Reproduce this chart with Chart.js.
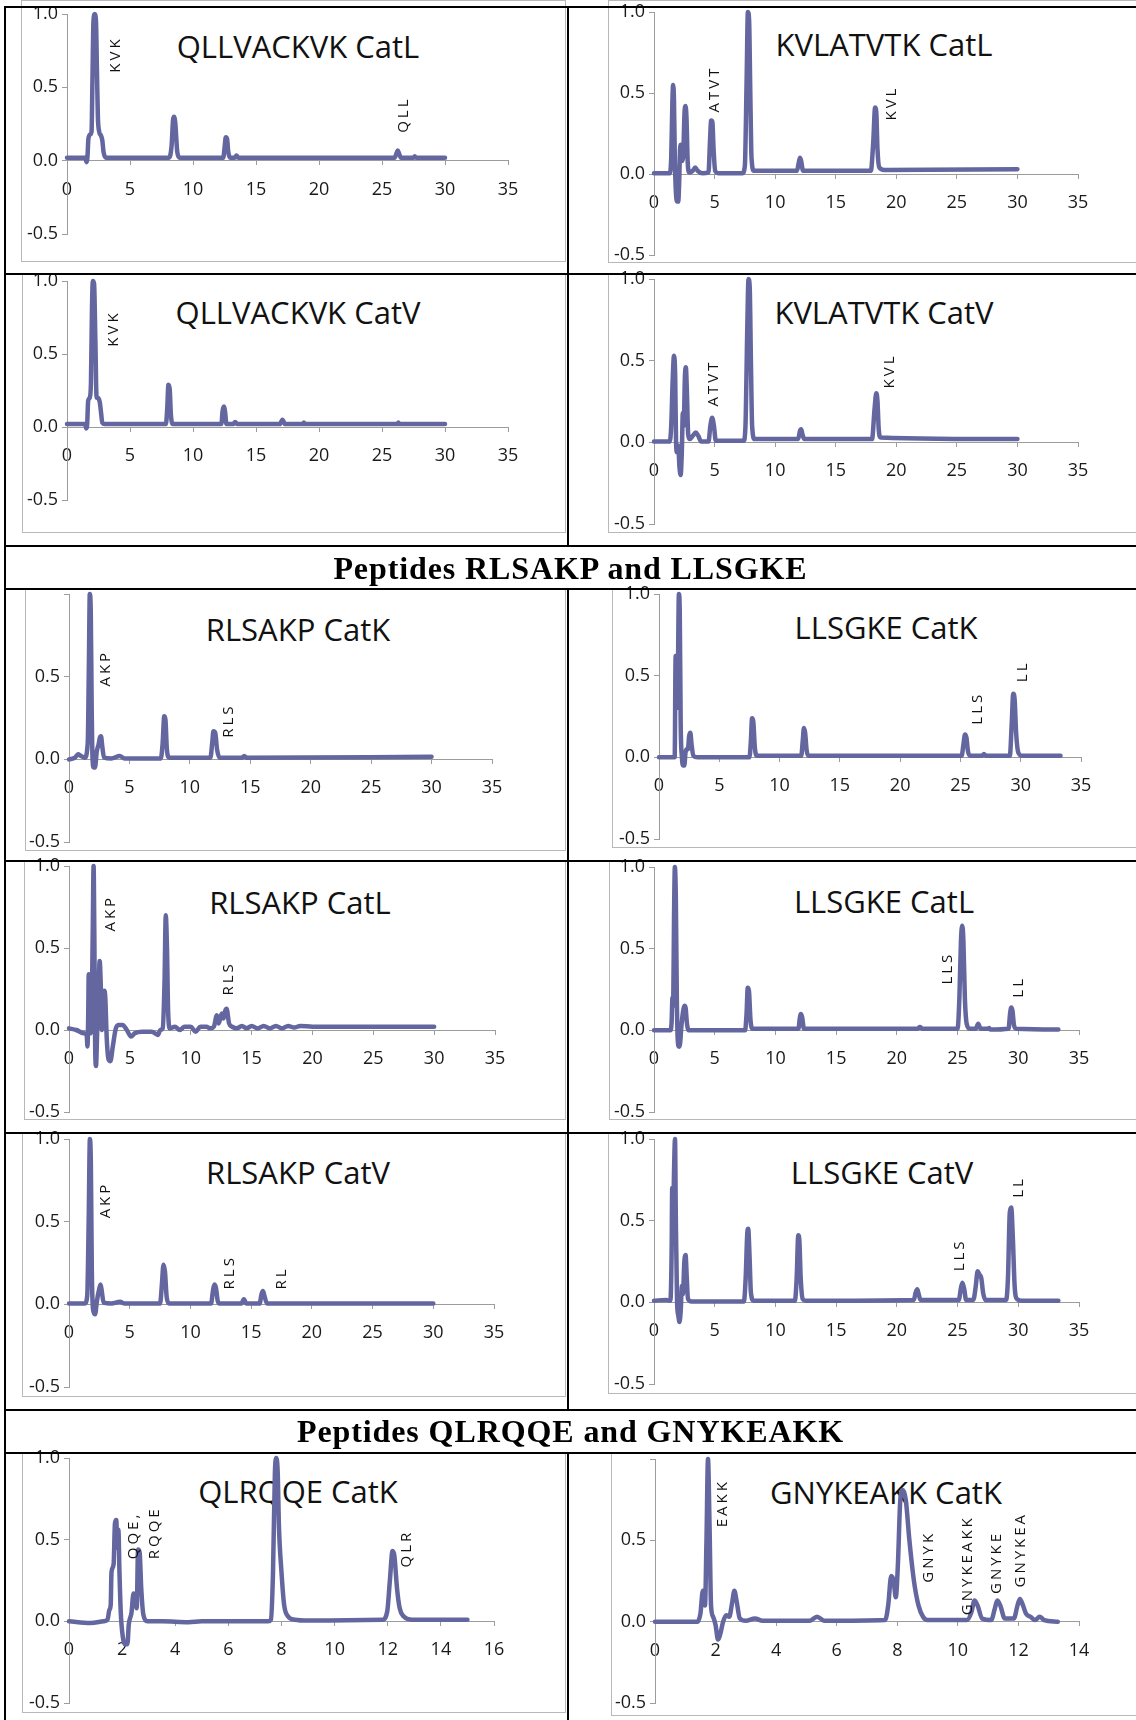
<!DOCTYPE html>
<html>
<head>
<meta charset="utf-8">
<script src="https://cdn.jsdelivr.net/npm/chart.js"></script>
<style>
body { margin: 0; background: #fff; }
#page { position: relative; width: 1136px; height: 1720px; overflow: hidden; background: #fff; }
.rule { position: absolute; background: #000; z-index: 4; }
.frame { position: absolute; border: 1px solid #b8b8b8; box-sizing: border-box; z-index: 0; }
.ttl { position: absolute; font-family: 'Open Sans'; font-size: 31px; line-height: 44px; white-space: nowrap; color: #111; z-index: 1; transform: translateX(-50%); }
canvas { position: absolute; z-index: 2; }
.head { position: absolute; left: 5px; width: 1131px; text-align: center; font-family: 'Liberation Serif'; font-weight: bold; font-size: 32px; letter-spacing: 0.9px; line-height: 40px; color: #000; z-index: 3; }
</style>
</head>
<body>
<div id="page"></div>
<script>
// ticks
const xTicks35 = [0, 5, 10, 15, 20, 25, 30, 35];
const xTicks16 = [0, 2, 4, 6, 8, 10, 12, 14, 16];
const xTicks14 = [0, 2, 4, 6, 8, 10, 12, 14];
const yTicks = [-0.5, 0, 0.5, 1];
const yLabelsFull = ['-0.5', '0.0', '0.5', '1.0'];
const yLabelsNoTop = ['-0.5', '0.0', '0.5', ''];

const chartTitles = ['QLLVACKVK CatL', 'KVLATVTK CatL', 'QLLVACKVK CatV', 'KVLATVTK CatV',
  'RLSAKP CatK', 'LLSGKE CatK', 'RLSAKP CatL', 'LLSGKE CatL',
  'RLSAKP CatV', 'LLSGKE CatV', 'QLRQQE CatK', 'GNYKEAKK CatK'];
const sectionHeads = ['Peptides RLSAKP and LLSGKE', 'Peptides QLRQQE and GNYKEAKK'];

// traces [time, relative signal]
const qllCatL = [[0,0.02],[1.45,0.02],[1.55,-0.01],[1.62,0.02],[1.7,0.15],[1.85,0.18],[1.95,0.2],[2.02,0.55],[2.1,0.95],[2.2,1.0],[2.3,0.95],[2.38,0.6],[2.45,0.3],[2.55,0.2],[2.7,0.17],[2.8,0.14],[2.9,0.06],[3.1,0.02],[5,0.02],[8.1,0.02],[8.3,0.1],[8.42,0.28],[8.5,0.3],[8.6,0.25],[8.75,0.06],[8.95,0.02],[11,0.02],[12.4,0.02],[12.52,0.1],[12.6,0.16],[12.7,0.15],[12.8,0.06],[12.95,0.02],[13.3,0.02],[13.45,0.035],[13.6,0.02],[18,0.02],[26.0,0.02],[26.15,0.05],[26.25,0.07],[26.35,0.05],[26.5,0.02],[27.5,0.02],[27.6,0.03],[27.7,0.02],[30,0.02]];
const kvlCatL = [[0,0.005],[1.3,0.005],[1.42,0.1],[1.52,0.45],[1.58,0.55],[1.65,0.45],[1.72,0.1],[1.8,-0.1],[1.9,-0.17],[2.0,-0.17],[2.08,-0.05],[2.15,0.15],[2.22,0.18],[2.3,0.08],[2.4,0.1],[2.52,0.38],[2.6,0.42],[2.68,0.35],[2.78,0.08],[2.9,0.01],[3.2,0.02],[3.4,0.04],[3.6,0.02],[4.0,0.005],[4.5,0.01],[4.62,0.2],[4.72,0.33],[4.82,0.32],[4.92,0.15],[5.05,0.02],[5.3,0.005],[7.3,0.005],[7.5,0.05],[7.65,0.6],[7.75,1.0],[7.85,0.95],[7.95,0.5],[8.05,0.1],[8.25,0.02],[11.8,0.02],[11.95,0.07],[12.05,0.1],[12.15,0.08],[12.3,0.02],[17.9,0.02],[18.1,0.2],[18.25,0.41],[18.35,0.38],[18.45,0.15],[18.6,0.04],[19,0.025],[30,0.03]];
const qllCatV = [[0,0.02],[1.45,0.02],[1.52,-0.01],[1.6,0.02],[1.68,0.18],[1.8,0.2],[1.9,0.3],[1.98,0.8],[2.05,1.0],[2.15,0.98],[2.25,0.6],[2.35,0.2],[2.45,0.2],[2.6,0.17],[2.7,0.1],[2.8,0.03],[3.0,0.02],[7.85,0.02],[7.95,0.12],[8.05,0.29],[8.15,0.26],[8.25,0.08],[8.4,0.02],[12.25,0.02],[12.35,0.11],[12.45,0.14],[12.55,0.1],[12.65,0.02],[13.2,0.02],[13.35,0.035],[13.5,0.02],[16.9,0.02],[17.1,0.05],[17.3,0.02],[18.7,0.02],[18.8,0.03],[18.9,0.02],[26.2,0.02],[26.3,0.03],[26.4,0.02],[30,0.02]];
const kvlCatV = [[0,0.005],[1.3,0.005],[1.42,0.1],[1.55,0.4],[1.65,0.53],[1.75,0.4],[1.82,0.0],[1.9,-0.06],[2.0,-0.02],[2.1,-0.15],[2.2,-0.2],[2.3,-0.05],[2.38,0.18],[2.45,0.1],[2.55,0.4],[2.63,0.46],[2.72,0.3],[2.82,0.05],[2.95,0.02],[3.2,0.04],[3.45,0.06],[3.65,0.04],[3.9,0.005],[4.5,0.005],[4.65,0.1],[4.8,0.15],[4.95,0.1],[5.1,0.01],[7.4,0.01],[7.55,0.1],[7.7,0.7],[7.8,1.0],[7.9,0.95],[8.0,0.5],[8.1,0.1],[8.3,0.02],[11.9,0.02],[12.05,0.07],[12.15,0.08],[12.25,0.05],[12.4,0.02],[18.0,0.02],[18.2,0.2],[18.35,0.3],[18.45,0.25],[18.55,0.08],[18.7,0.03],[30,0.02]];
const rlsCatK = [[0,0.0],[0.5,0.01],[0.75,0.03],[1.0,0.02],[1.3,0.01],[1.55,0.1],[1.65,0.6],[1.72,1.0],[1.8,0.9],[1.88,0.3],[1.95,0.0],[2.05,-0.05],[2.15,-0.05],[2.3,0.05],[2.45,0.09],[2.55,0.13],[2.65,0.14],[2.75,0.08],[2.9,0.01],[3.5,0.005],[4.2,0.02],[4.6,0.005],[7.6,0.005],[7.75,0.1],[7.88,0.26],[7.98,0.24],[8.1,0.06],[8.3,0.01],[11.7,0.01],[11.85,0.1],[11.95,0.17],[12.1,0.16],[12.25,0.06],[12.45,0.01],[14.3,0.01],[14.5,0.02],[14.7,0.01],[30,0.015]];
const llsCatK = [[0,0.0],[1.3,0.0],[1.38,0.62],[1.45,0.3],[1.55,0.4],[1.65,1.0],[1.72,0.9],[1.8,0.2],[1.9,0.0],[2.0,-0.05],[2.1,-0.05],[2.2,0.03],[2.3,0.05],[2.4,0.05],[2.5,0.13],[2.6,0.15],[2.7,0.08],[2.85,0.01],[3.2,0.0],[7.5,0.0],[7.62,0.1],[7.72,0.24],[7.82,0.22],[7.95,0.06],[8.1,0.01],[11.8,0.01],[11.92,0.1],[12.02,0.18],[12.12,0.15],[12.25,0.04],[12.4,0.01],[25.1,0.01],[25.25,0.08],[25.38,0.14],[25.5,0.12],[25.62,0.04],[25.8,0.01],[26.8,0.01],[26.95,0.02],[27.1,0.01],[29.1,0.01],[29.25,0.2],[29.38,0.39],[29.5,0.35],[29.62,0.15],[29.8,0.03],[30.1,0.01],[33.3,0.01]];
const rlsCatL = [[0,0.01],[0.6,0.0],[1.2,-0.02],[1.45,-0.03],[1.52,-0.1],[1.58,0.1],[1.62,0.34],[1.68,0.2],[1.75,-0.02],[1.85,0.05],[1.95,0.6],[2.02,1.0],[2.08,0.6],[2.15,-0.1],[2.22,-0.22],[2.3,-0.05],[2.45,0.3],[2.52,0.42],[2.6,0.3],[2.7,0.0],[2.8,0.1],[2.9,0.24],[2.98,0.2],[3.1,-0.05],[3.25,-0.18],[3.4,-0.19],[3.6,-0.1],[3.85,0.01],[4.1,0.03],[4.4,0.03],[4.75,0.0],[5.1,-0.04],[5.4,-0.02],[6.0,-0.01],[6.8,-0.01],[7.3,-0.03],[7.5,0.0],[7.7,0.01],[7.85,0.3],[7.95,0.7],[8.05,0.5],[8.15,0.1],[8.3,0.01],[8.7,0.02],[9.1,0.0],[9.5,0.02],[10.0,0.02],[10.4,-0.01],[10.8,0.02],[11.3,0.02],[11.6,0.01],[11.9,0.02],[12.15,0.09],[12.3,0.04],[12.55,0.1],[12.7,0.07],[12.85,0.12],[12.95,0.13],[13.15,0.04],[13.4,0.02],[13.8,0.01],[14.2,0.025],[14.6,0.01],[15.0,0.025],[15.5,0.01],[16.0,0.025],[16.5,0.01],[17.0,0.025],[17.5,0.01],[18.0,0.025],[18.5,0.015],[19.0,0.025],[20,0.02],[22,0.02],[24,0.02],[26,0.02],[28,0.02],[30,0.02]];
const llsCatL = [[0,0.0],[1.35,0.0],[1.45,0.05],[1.52,0.2],[1.58,0.15],[1.65,0.7],[1.72,1.0],[1.8,0.8],[1.88,0.2],[1.95,-0.05],[2.05,-0.1],[2.15,-0.08],[2.25,0.02],[2.4,0.12],[2.5,0.15],[2.6,0.14],[2.7,0.05],[2.85,0.0],[7.5,0.0],[7.62,0.1],[7.72,0.26],[7.82,0.24],[7.95,0.06],[8.1,0.01],[11.9,0.01],[12.0,0.07],[12.1,0.1],[12.2,0.08],[12.35,0.01],[21.7,0.01],[21.9,0.02],[22.1,0.01],[25.0,0.01],[25.15,0.2],[25.28,0.55],[25.38,0.64],[25.48,0.55],[25.6,0.2],[25.75,0.04],[26.0,0.01],[26.5,0.01],[26.7,0.04],[26.9,0.01],[27.5,0.01],[27.6,0.015],[27.7,0.005],[29.2,0.01],[29.32,0.1],[29.42,0.14],[29.52,0.12],[29.65,0.03],[29.85,0.01],[33.3,0.005]];
const rlsCatV = [[0,0.005],[1.3,0.005],[1.5,0.05],[1.62,0.5],[1.72,1.0],[1.8,0.85],[1.88,0.2],[1.95,0.0],[2.05,-0.05],[2.15,-0.06],[2.3,0.02],[2.45,0.08],[2.6,0.12],[2.7,0.08],[2.85,0.01],[3.5,0.005],[4.2,0.015],[4.6,0.005],[7.5,0.005],[7.65,0.12],[7.78,0.24],[7.9,0.2],[8.05,0.04],[8.25,0.005],[11.7,0.005],[11.85,0.08],[11.97,0.12],[12.1,0.1],[12.25,0.02],[12.4,0.005],[14.2,0.005],[14.4,0.03],[14.6,0.005],[15.7,0.005],[15.85,0.06],[15.97,0.08],[16.1,0.05],[16.3,0.005],[30,0.005]];
const llsCatV = [[0,0.01],[1.0,0.015],[1.35,0.01],[1.45,0.3],[1.5,0.7],[1.56,0.4],[1.65,0.8],[1.73,1.0],[1.8,0.5],[1.9,0.0],[2.0,-0.08],[2.1,-0.12],[2.2,-0.05],[2.3,0.1],[2.38,0.05],[2.5,0.25],[2.6,0.29],[2.7,0.15],[2.8,0.02],[3.1,0.005],[7.4,0.005],[7.55,0.15],[7.68,0.42],[7.76,0.45],[7.86,0.3],[7.98,0.06],[8.2,0.01],[11.6,0.01],[11.75,0.15],[11.88,0.41],[11.97,0.38],[12.08,0.15],[12.25,0.02],[12.5,0.01],[21.4,0.015],[21.55,0.06],[21.68,0.08],[21.8,0.05],[21.95,0.015],[25.1,0.015],[25.28,0.09],[25.4,0.12],[25.55,0.08],[25.7,0.015],[26.3,0.015],[26.5,0.1],[26.65,0.19],[26.8,0.17],[26.95,0.15],[27.1,0.06],[27.3,0.015],[29.0,0.015],[29.15,0.15],[29.3,0.55],[29.42,0.58],[29.55,0.4],[29.7,0.1],[29.9,0.02],[30.3,0.01],[33.3,0.01]];
const qlrCatK = [[0,0.0],[0.8,-0.01],[1.3,0.0],[1.45,0.01],[1.52,0.07],[1.57,0.1],[1.6,0.3],[1.68,0.35],[1.73,0.6],[1.78,0.62],[1.82,0.45],[1.86,0.56],[1.9,0.3],[1.95,0.05],[2.03,-0.1],[2.1,-0.14],[2.2,-0.14],[2.25,-0.02],[2.35,0.05],[2.43,0.17],[2.5,0.13],[2.55,0.08],[2.6,0.44],[2.66,0.42],[2.72,0.2],[2.8,0.04],[2.95,0.0],[3.5,0.0],[4.5,-0.005],[5.0,0.0],[6.0,0.0],[7.5,0.0],[7.6,0.01],[7.68,0.3],[7.75,0.9],[7.8,1.0],[7.86,0.9],[7.9,0.6],[8.0,0.3],[8.1,0.1],[8.25,0.03],[8.5,0.01],[9,0.005],[11.8,0.01],[11.98,0.06],[12.08,0.25],[12.18,0.43],[12.25,0.4],[12.35,0.2],[12.45,0.08],[12.6,0.03],[12.9,0.01],[15,0.01]];
const gnyCatK = [[0,0.0],[1.4,0.0],[1.5,0.05],[1.58,0.19],[1.65,0.1],[1.7,0.5],[1.75,1.0],[1.8,0.6],[1.85,0.1],[1.92,0.03],[2.0,-0.02],[2.08,-0.11],[2.15,-0.08],[2.25,0.0],[2.35,0.04],[2.45,0.03],[2.55,0.12],[2.62,0.19],[2.7,0.12],[2.8,0.02],[3.0,0.005],[3.3,0.02],[3.55,0.005],[5.1,0.005],[5.35,0.03],[5.6,0.005],[7.6,0.01],[7.7,0.1],[7.8,0.28],[7.88,0.25],[7.95,0.15],[8.02,0.35],[8.1,0.75],[8.18,0.81],[8.28,0.75],[8.4,0.5],[8.55,0.25],[8.7,0.1],[8.85,0.03],[9.0,0.01],[10.3,0.01],[10.45,0.06],[10.55,0.13],[10.65,0.1],[10.8,0.02],[11.1,0.01],[11.22,0.08],[11.3,0.13],[11.4,0.1],[11.55,0.02],[11.85,0.02],[11.97,0.1],[12.05,0.14],[12.15,0.1],[12.25,0.05],[12.4,0.03],[12.55,0.01],[12.7,0.03],[12.85,0.01],[13.3,0.0]];

// peak names, with the time and signal where each label starts
const qllCatLPeaks = ['KVK', 'QLL'];   const qllCatLPeakX = [3.9, 26.7];  const qllCatLPeakY = [0.6, 0.19];
const kvlCatLPeaks = ['ATVT', 'KVL'];  const kvlCatLPeakX = [5.0, 19.6];  const kvlCatLPeakY = [0.38, 0.33];
const qllCatVPeaks = ['KVK'];          const qllCatVPeakX = [3.7];        const qllCatVPeakY = [0.55];
const kvlCatVPeaks = ['ATVT', 'KVL'];  const kvlCatVPeakX = [4.95, 19.5]; const kvlCatVPeakY = [0.22, 0.33];
const rlsCatKPeaks = ['AKP', 'RLS'];   const rlsCatKPeakX = [3.0, 13.2];  const rlsCatKPeakY = [0.44, 0.13];
const llsCatKPeaks = ['LLS', 'LL'];    const llsCatKPeakX = [26.4, 30.2]; const llsCatKPeakY = [0.2, 0.46];
const rlsCatLPeaks = ['AKP', 'RLS'];   const rlsCatLPeakX = [3.4, 13.1];  const rlsCatLPeakY = [0.6, 0.21];
const llsCatLPeaks = ['LLS', 'LL'];    const llsCatLPeakX = [24.2, 30.0]; const llsCatLPeakY = [0.28, 0.2];
const rlsCatVPeaks = ['AKP', 'RLS', 'RL']; const rlsCatVPeakX = [3.0, 13.2, 17.5]; const rlsCatVPeakY = [0.52, 0.09, 0.09];
const llsCatVPeaks = ['LLS', 'LL'];    const llsCatVPeakX = [25.2, 30.0]; const llsCatVPeakY = [0.19, 0.64];
const qlrCatKPeaks = ['QQE,', 'RQQE', 'QLR']; const qlrCatKPeakX = [2.44, 3.22, 12.7]; const qlrCatKPeakY = [0.38, 0.38, 0.33];
const gnyCatKPeaks = ['EAKK', 'GNYK', 'GNYKEAKK', 'GNYKE', 'GNYKEA'];
const gnyCatKPeakX = [2.25, 9.05, 10.33, 11.3, 12.07];
const gnyCatKPeakY = [0.58, 0.24, 0.04, 0.17, 0.21];

const TRACE = '#64669f';
const AXIS = '#9c9c9c';

// placement of each panel: pixel of x=0, pixel of last x tick, pixel of y=1 and y=-0.5, grey frame
const panels = [
  { s: qllCatL, xt: xTicks35, yl: yLabelsFull, p: [qllCatLPeaks, qllCatLPeakX, qllCatLPeakY], x0: 67, x1: 508, yT: 14, yB: 234, fr: [21, 0, 566, 262], tx: 298, ty: 47 },
  { s: kvlCatL, xt: xTicks35, yl: yLabelsFull, p: [kvlCatLPeaks, kvlCatLPeakX, kvlCatLPeakY], x0: 654, x1: 1078, yT: 12, yB: 255, fr: [608, 0, 1140, 263], tx: 884, ty: 45 },
  { s: qllCatV, xt: xTicks35, yl: yLabelsFull, p: [qllCatVPeaks, qllCatVPeakX, qllCatVPeakY], x0: 67, x1: 508, yT: 281, yB: 500, fr: [22, 274, 566, 533], tx: 298, ty: 313 },
  { s: kvlCatV, xt: xTicks35, yl: yLabelsFull, p: [kvlCatVPeaks, kvlCatVPeakX, kvlCatVPeakY], x0: 654, x1: 1078, yT: 279, yB: 524, fr: [608, 274, 1140, 533], tx: 884, ty: 313 },
  { s: rlsCatK, xt: xTicks35, yl: yLabelsNoTop, p: [rlsCatKPeaks, rlsCatKPeakX, rlsCatKPeakY], x0: 69, x1: 492, yT: 594, yB: 842, fr: [25, 589, 566, 851], tx: 298, ty: 630 },
  { s: llsCatK, xt: xTicks35, yl: yLabelsFull, p: [llsCatKPeaks, llsCatKPeakX, llsCatKPeakY], x0: 659, x1: 1081, yT: 594, yB: 839, fr: [612, 589, 1140, 848], tx: 886, ty: 628 },
  { s: rlsCatL, xt: xTicks35, yl: yLabelsFull, p: [rlsCatLPeaks, rlsCatLPeakX, rlsCatLPeakY], x0: 69, x1: 495, yT: 866, yB: 1112, fr: [24, 861, 566, 1120], tx: 300, ty: 903 },
  { s: llsCatL, xt: xTicks35, yl: yLabelsFull, p: [llsCatLPeaks, llsCatLPeakX, llsCatLPeakY], x0: 654, x1: 1079, yT: 867, yB: 1112, fr: [609, 861, 1140, 1120], tx: 884, ty: 902 },
  { s: rlsCatV, xt: xTicks35, yl: yLabelsFull, p: [rlsCatVPeaks, rlsCatVPeakX, rlsCatVPeakY], x0: 69, x1: 494, yT: 1139, yB: 1387, fr: [22, 1133, 566, 1397], tx: 298, ty: 1173 },
  { s: llsCatV, xt: xTicks35, yl: yLabelsFull, p: [llsCatVPeaks, llsCatVPeakX, llsCatVPeakY], x0: 654, x1: 1079, yT: 1139, yB: 1384, fr: [608, 1133, 1140, 1394], tx: 882, ty: 1173 },
  { s: qlrCatK, xt: xTicks16, yl: yLabelsFull, p: [qlrCatKPeaks, qlrCatKPeakX, qlrCatKPeakY], x0: 69, x1: 494, yT: 1458, yB: 1703, fr: [22, 1453, 566, 1713], tx: 298, ty: 1492 },
  { s: gnyCatK, xt: xTicks14, yl: yLabelsNoTop, p: [gnyCatKPeaks, gnyCatKPeakX, gnyCatKPeakY], x0: 655, x1: 1079, yT: 1459, yB: 1703, fr: [611, 1453, 1140, 1716], tx: 886, ty: 1493 }
];

const page = document.getElementById('page');

function addDiv(cls, css, text) {
  const d = document.createElement('div');
  d.className = cls;
  Object.assign(d.style, css);
  if (text) d.textContent = text;
  page.appendChild(d);
  return d;
}

// rotated peak names
const peakPlugin = {
  id: 'peaks',
  afterDatasetsDraw(chart, args, opts) {
    const ctx = chart.ctx, sx = chart.scales.x, sy = chart.scales.y;
    ctx.save();
    ctx.font = '15px "Open Sans"';
    ctx.fillStyle = '#111';
    ctx.letterSpacing = '3px';
    ctx.textAlign = 'left';
    ctx.textBaseline = 'middle';
    opts.names.forEach(function (n, i) {
      ctx.save();
      ctx.translate(sx.getPixelForValue(opts.xs[i]), sy.getPixelForValue(opts.ys[i]));
      ctx.rotate(-Math.PI / 2);
      ctx.fillText(n, 0, 0);
      ctx.restore();
    });
    ctx.restore();
  }
};

function makePanel(pn, idx) {
  addDiv('frame', { left: pn.fr[0] + 'px', top: pn.fr[1] + 'px', width: (pn.fr[2] - pn.fr[0]) + 'px', height: (pn.fr[3] - pn.fr[1]) + 'px' });
  addDiv('ttl', { left: pn.tx + 'px', top: (pn.ty - 23) + 'px' }, chartTitles[idx]);

  const cv = document.createElement('canvas');
  const left = pn.x0 - 60, top = pn.yT - 20;
  const w = pn.x1 + 40 - left, h = pn.yB + 20 - top;
  cv.width = w; cv.height = h;
  cv.style.left = left + 'px'; cv.style.top = top + 'px';
  cv.style.width = w + 'px'; cv.style.height = h + 'px';
  page.appendChild(cv);

  const xt = pn.xt, yl = pn.yl;
  const tickFont = { family: 'Open Sans', size: 18 };
  new Chart(cv, {
    type: 'line',
    data: {
      datasets: [{
        data: pn.s.map(function (p) { return { x: p[0], y: p[1] }; }),
        borderColor: TRACE,
        borderWidth: 4.5,
        pointRadius: 0,
        cubicInterpolationMode: 'monotone',
        borderJoinStyle: 'round',
        borderCapStyle: 'round',
        clip: false
      }]
    },
    options: {
      responsive: false,
      animation: false,
      events: [],
      layout: { padding: { left: 10, top: 20, right: 40, bottom: 20 } },
      plugins: {
        legend: { display: false },
        tooltip: { enabled: false },
        peaks: { names: pn.p[0], xs: pn.p[1], ys: pn.p[2] }
      },
      scales: {
        x: {
          type: 'linear',
          position: { y: 0 },
          min: xt[0],
          max: xt[xt.length - 1],
          afterBuildTicks: function (s) { s.ticks = xt.map(function (v) { return { value: v }; }); },
          ticks: { autoSkip: false, maxRotation: 0, padding: 14, color: '#1a1a1a', font: tickFont,
            callback: function (v, i) { return String(xt[i]); } },
          grid: { drawOnChartArea: false, tickLength: 4, color: AXIS },
          border: { color: AXIS, width: 1 }
        },
        y: {
          min: -0.5,
          max: 1,
          afterBuildTicks: function (s) { s.ticks = yTicks.map(function (v) { return { value: v }; }); },
          afterFit: function (s) { s.width = 50; },
          ticks: { padding: 4, color: '#1a1a1a', font: tickFont,
            callback: function (v, i) { return yl[i]; } },
          grid: { drawOnChartArea: false, tickLength: 5, color: AXIS },
          border: { color: AXIS, width: 1 }
        }
      }
    },
    plugins: [peakPlugin]
  });
}

panels.forEach(makePanel);

// table rules
[7, 274, 546, 589, 861, 1133, 1410, 1453].forEach(function (y) {
  addDiv('rule', { left: '4px', top: (y - 1) + 'px', width: '1132px', height: '2px' });
});
addDiv('rule', { left: '4px', top: '6px', width: '2px', height: '1714px' });
[[6, 546], [589, 1410], [1453, 1720]].forEach(function (r) {
  addDiv('rule', { left: '567px', top: r[0] + 'px', width: '1.5px', height: (r[1] - r[0]) + 'px' });
});

// section headings
addDiv('head', { top: '548px' }, sectionHeads[0]);
addDiv('head', { top: '1411px' }, sectionHeads[1]);
</script>
</body>
</html>
